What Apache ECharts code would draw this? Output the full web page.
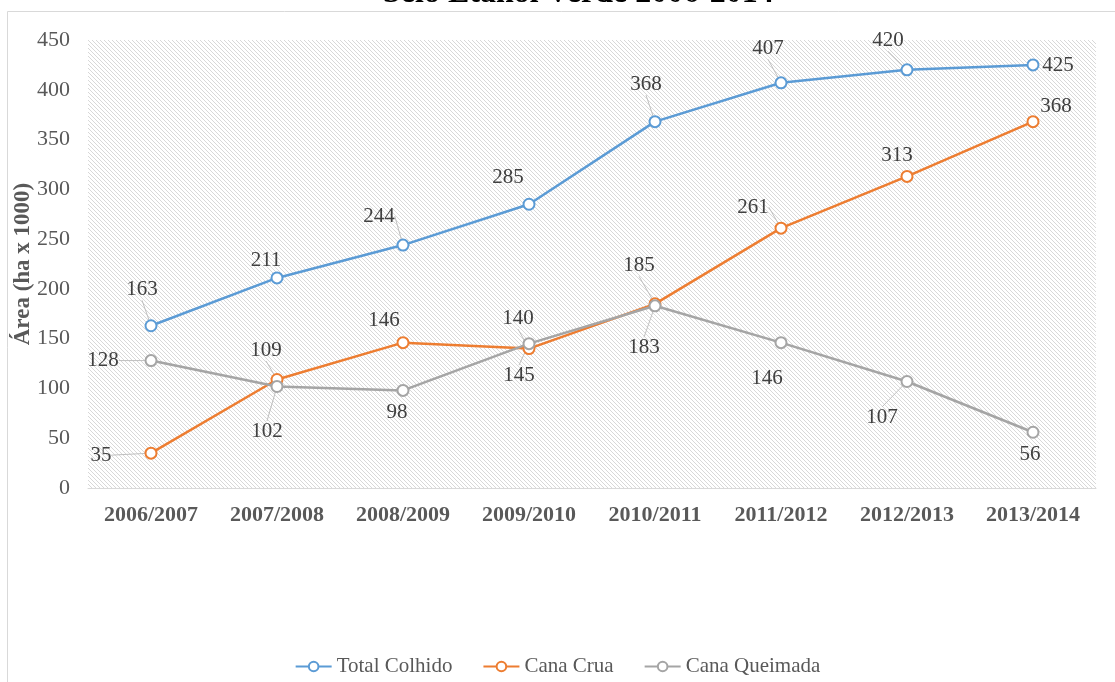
<!DOCTYPE html>
<html>
<head>
<meta charset="utf-8">
<script src="https://cdn.jsdelivr.net/npm/echarts@6/dist/echarts.min.js"></script>
<style>
html,body{margin:0;padding:0;background:#fff;}
#chart{width:1115px;height:682px;}
</style>
</head>
<body>
<div id="chart"></div>
<script>
// Harvested area (ha x 1000) per season
const seasons = ['2006/2007','2007/2008','2008/2009','2009/2010','2010/2011','2011/2012','2012/2013','2013/2014'];
const totalColhido = [163, 211, 244, 285, 368, 407, 420, 425];
const canaCrua = [35, 109, 146, 140, 185, 261, 313, 368];
const canaQueimada = [128, 102, 98, 145, 183, 146, 107, 56];
const yTicks = [0, 50, 100, 150, 200, 250, 300, 350, 400, 450];

// Label offsets (dx, dy) from each marker, and whether a leader line is drawn
const totalLabelOffsets = [[-9,-36,1],[-11,-17,0],[-24,-29,1],[-21,-27,0],[-9,-37,1],[-13,-34,1],[-19,-29,1],[25,1,0]];
const cruaLabelOffsets = [[-50,2,1],[-11,-29,1],[-19,-22,0],[-11,-30,1],[-16,-38,1],[-28,-21,1],[-10,-21,0],[23,-15,0]];
const queimadaLabelOffsets = [[-48,0,1],[-10,45,1],[-6,22,0],[-10,32,1],[-11,42,1],[-14,36,0],[-25,36,1],[-3,22,0]];

const serif = '"Liberation Serif", "Times New Roman", serif';

// Diagonal hatch for the plot background
function hatch() {
  const c = document.createElement('canvas');
  c.width = 4; c.height = 4;
  const g = c.getContext('2d');
  g.fillStyle = '#ffffff';
  g.fillRect(0, 0, 4, 4);
  g.fillStyle = '#d8d8d8';
  for (let i = 0; i < 4; i++) g.fillRect(i, i, 1, 1);
  return c;
}

function buildData(values, offsets) {
  return values.map((v, i) => ({
    value: v,
    label: { offset: [offsets[i][0], offsets[i][1]] },
    labelLine: { show: !!offsets[i][2] }
  }));
}

function makeSeries(name, values, offsets, color) {
  return {
    name: name,
    type: 'line',
    data: buildData(values, offsets),
    symbol: 'emptyCircle',
    symbolSize: 11,
    lineStyle: { color: color, width: 2.5 },
    itemStyle: { color: color, borderColor: color, borderWidth: 2.5 },
    label: {
      show: true,
      position: 'inside',
      align: 'center',
      verticalAlign: 'middle',
      fontFamily: serif,
      fontSize: 21,
      color: '#404040'
    },
    labelLine: {
      show: false,
      lineStyle: { color: '#bfbfbf', width: 1 }
    },
    emphasis: { disabled: true }
  };
}

const chart = echarts.init(document.getElementById('chart'), null, { renderer: 'canvas' });

chart.setOption({
  animation: false,
  backgroundColor: '#ffffff',
  title: {
    text: 'Selo Etanol Verde 2006-2014',
    left: 378,
    top: -27,
    textStyle: { fontFamily: serif, fontSize: 32, fontWeight: 'bold', color: '#000000' }
  },
  graphic: [{
    type: 'rect',
    shape: { x: 7.5, y: 11.5, width: 1200, height: 800 },
    style: { fill: 'none', stroke: '#d9d9d9', lineWidth: 1 },
    silent: true,
    z: -1
  }],
  grid: {
    left: 88, right: 19, top: 40, bottom: 194,
    show: true,
    borderWidth: 0,
    backgroundColor: { image: hatch(), repeat: 'repeat' }
  },
  legend: {
    top: 651,
    left: 'center',
    itemWidth: 36,
    itemHeight: 12,
    itemGap: 30,
    textStyle: { fontFamily: serif, fontSize: 21, color: '#595959' },
    data: ['Total Colhido', 'Cana Crua', 'Cana Queimada']
  },
  xAxis: {
    type: 'category',
    data: seasons,
    boundaryGap: true,
    axisLine: { show: true, lineStyle: { color: '#d9d9d9', width: 1 } },
    axisTick: { show: false },
    axisLabel: {
      fontFamily: serif, fontSize: 22, fontWeight: 'bold', color: '#595959', margin: 16
    }
  },
  yAxis: {
    type: 'value',
    min: yTicks[0],
    max: yTicks[yTicks.length - 1],
    interval: yTicks[1] - yTicks[0],
    name: 'Área (ha x 1000)',
    nameLocation: 'middle',
    nameGap: 53,
    nameMoveOverlap: false,
    nameRotate: 90,
    nameTextStyle: { fontFamily: serif, fontSize: 23, fontWeight: 'bold', color: '#595959' },
    axisLine: { show: false },
    axisTick: { show: false },
    splitLine: { show: false },
    axisLabel: { fontFamily: serif, fontSize: 22, color: '#595959', margin: 18 }
  },
  series: [
    makeSeries('Total Colhido', totalColhido, totalLabelOffsets, '#5b9bd5'),
    makeSeries('Cana Crua', canaCrua, cruaLabelOffsets, '#ed7d31'),
    makeSeries('Cana Queimada', canaQueimada, queimadaLabelOffsets, '#a5a5a5')
  ]
});
</script>
</body>
</html>
